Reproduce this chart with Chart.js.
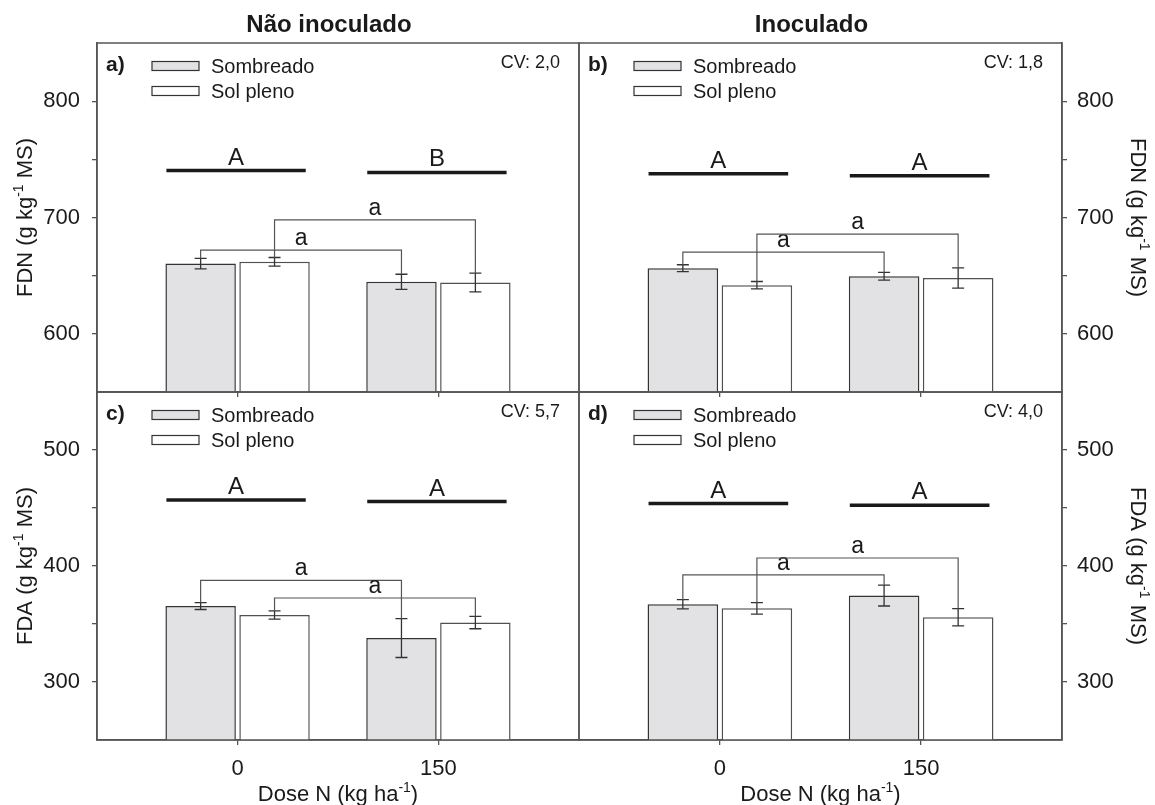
<!DOCTYPE html>
<html>
<head>
<meta charset="utf-8">
<script src="https://cdn.jsdelivr.net/npm/chart.js@4.4.1/dist/chart.umd.min.js"></script>
<style>
html,body{margin:0;padding:0;background:#ffffff;}
#wrap{position:relative;width:1155px;height:805px;overflow:hidden;background:#ffffff;}
#wrap canvas{position:absolute;left:0;top:0;}
</style>
</head>
<body>
<div id="wrap">
<canvas id="pa" width="1155" height="805"></canvas>
<canvas id="pb" width="1155" height="805"></canvas>
<canvas id="pc" width="1155" height="805"></canvas>
<canvas id="pd" width="1155" height="805"></canvas>
</div>
<script>
// ---------------- DATA ----------------
const doses = [0, 150];
const seriesNames = ['Sombreado', 'Sol pleno'];
const titleNao = 'Não inoculado';
const titleIno = 'Inoculado';

// FDN - Não inoculado (a)
const fdnNaoSomb = [660.4, 644.7];
const fdnNaoSol = [661.9, 644.1];
const fdnNaoSombErr = [4.5, 6.5];
const fdnNaoSolErr = [3.7, 8.0];
// FDN - Inoculado (b)
const fdnInoSomb = [656.4, 649.5];
const fdnInoSol = [641.8, 648.0];
const fdnInoSombErr = [3.0, 3.3];
const fdnInoSolErr = [3.2, 8.7];
// FDA - Não inoculado (c)
const fdaNaoSomb = [365.5, 337.9];
const fdaNaoSol = [357.8, 351.2];
const fdaNaoSombErr = [3.0, 16.8];
const fdaNaoSolErr = [3.6, 5.3];
// FDA - Inoculado (d)
const fdaInoSomb = [367.0, 374.5];
const fdaInoSol = [363.5, 355.8];
const fdaInoSombErr = [4.0, 9.0];
const fdaInoSolErr = [5.0, 7.5];

// significance letters (dose comparison) and their levels
const sigLettersA = ['A', 'B'];
const sigLevelsA = [740.4, 738.7];
const sigLettersB = ['A', 'A'];
const sigLevelsB = [737.6, 735.9];
const sigLettersC = ['A', 'A'];
const sigLevelsC = [456.9, 455.5];
const sigLettersD = ['A', 'A'];
const sigLevelsD = [453.8, 452.3];

// bracket letters and levels [Sombreado, Sol pleno]
const brLettersA = ['a', 'a'];
const brLevelsA = [671.9, 698.0];
const brLettersB = ['a', 'a'];
const brLevelsB = [670.2, 685.7];
const brLettersC = ['a', 'a'];
const brLevelsC = [387.6, 372.4];
const brLettersD = ['a', 'a'];
const brLevelsD = [392.3, 406.9];

const cvA = 'CV: 2,0';
const cvB = 'CV: 1,8';
const cvC = 'CV: 5,7';
const cvD = 'CV: 4,0';

// axes
const fdnRange = [550, 850];
const fdaRange = [250, 550];
const fdnTicks = [600, 650, 700, 750, 800];
const fdaTicks = [300, 350, 400, 450, 500];
const doseRange = [-105, 255];
const fdnTitle = [{t:'FDN (g kg'},{t:'-1',sup:true},{t:' MS)'}];
const fdaTitle = [{t:'FDA (g kg'},{t:'-1',sup:true},{t:' MS)'}];
const xTitle = [{t:'Dose N (kg ha'},{t:'-1',sup:true},{t:')'}];

// ---------------- DRAWING ----------------
const FONT = "'Liberation Sans', Arial, Helvetica, sans-serif";
const W = 1155, H = 805;
const AXIS = '#555555';
const INK = '#1a1a1a';

function drawParts(ctx, parts, size, cx, cy, rot) {
  ctx.save();
  ctx.translate(cx, cy);
  ctx.rotate(rot);
  const supSize = Math.round(size * 0.62);
  const widths = parts.map(p => { ctx.font = (p.sup ? supSize : size) + 'px ' + FONT; return ctx.measureText(p.t).width; });
  const total = widths.reduce((a, b) => a + b, 0);
  let x = -total / 2;
  ctx.textAlign = 'left';
  ctx.textBaseline = 'alphabetic';
  ctx.fillStyle = INK;
  const base = size * 0.36;
  parts.forEach((p, i) => {
    ctx.font = (p.sup ? supSize : size) + 'px ' + FONT;
    ctx.fillText(p.t, x, p.sup ? base - size * 0.42 : base);
    x += widths[i];
  });
  ctx.restore();
}

function makePanel(id, cfg) {
  const left = cfg.side === 'left';
  const xH = cfg.showX ? (H - cfg.area.bottom) : 0;
  const annot = {
    id: 'annot_' + id,
    afterDatasetsDraw(chart) {
      const ctx = chart.ctx;
      const ys = chart.scales.y;
      const metas = [chart.getDatasetMeta(0).data, chart.getDatasetMeta(1).data];
      const vals = [cfg.somb, cfg.sol];
      const errs = [cfg.sombErr, cfg.solErr];
      ctx.save();
      // error bars
      ctx.strokeStyle = '#333333';
      ctx.lineWidth = 1.3;
      metas.forEach((m, di) => {
        m.forEach((bar, i) => {
          const v = vals[di][i], e = errs[di][i];
          const yt = ys.getPixelForValue(v + e), yb = ys.getPixelForValue(v - e);
          ctx.beginPath();
          ctx.moveTo(bar.x, yt); ctx.lineTo(bar.x, yb);
          ctx.moveTo(bar.x - 6, yt); ctx.lineTo(bar.x + 6, yt);
          ctx.moveTo(bar.x - 6, yb); ctx.lineTo(bar.x + 6, yb);
          ctx.stroke();
        });
      });
      // brackets
      metas.forEach((m, di) => {
        const yB = ys.getPixelForValue(cfg.brLevels[di]);
        const x1 = m[0].x, x2 = m[1].x;
        const y1 = ys.getPixelForValue(vals[di][0] + errs[di][0]);
        const y2 = ys.getPixelForValue(vals[di][1] + errs[di][1]);
        ctx.strokeStyle = '#555555';
        ctx.lineWidth = 1.2;
        ctx.beginPath();
        ctx.moveTo(x1, y1); ctx.lineTo(x1, yB); ctx.lineTo(x2, yB); ctx.lineTo(x2, y2);
        ctx.stroke();
        ctx.fillStyle = INK;
        ctx.font = '23px ' + FONT;
        ctx.textAlign = 'center';
        ctx.textBaseline = 'alphabetic';
        ctx.fillText(cfg.brLetters[di], (x1 + x2) / 2, yB - 5);
      });
      // dose significance lines
      for (let i = 0; i < doses.length; i++) {
        const b0 = metas[0][i], b1 = metas[1][i];
        const xl = b0.x - b0.width / 2 + 1, xr = b1.x + b1.width / 2 - 4;
        const y = ys.getPixelForValue(cfg.sigLevels[i]);
        ctx.strokeStyle = '#1a1a1a';
        ctx.lineWidth = 3.5;
        ctx.beginPath(); ctx.moveTo(xl, y); ctx.lineTo(xr, y); ctx.stroke();
        ctx.fillStyle = INK;
        ctx.font = '24px ' + FONT;
        ctx.textAlign = 'center';
        ctx.textBaseline = 'alphabetic';
        ctx.fillText(cfg.sigLetters[i], (xl + xr) / 2, y - 6);
      }
      ctx.restore();
    },
    afterDraw(chart) {
      const ctx = chart.ctx;
      const a = chart.chartArea;
      ctx.save();
      // frame
      ctx.strokeStyle = AXIS;
      ctx.lineWidth = 1.5;
      ctx.strokeRect(a.left, a.top, a.right - a.left, a.bottom - a.top);
      // legend
      chart.data.datasets.forEach((ds, i) => {
        const bx = a.left + 55, cy = a.top + 23 + i * 25;
        ctx.fillStyle = ds.backgroundColor;
        ctx.fillRect(bx, cy - 4.5, 47, 9);
        ctx.strokeStyle = '#333333';
        ctx.lineWidth = 1.2;
        ctx.strokeRect(bx, cy - 4.5, 47, 9);
        ctx.fillStyle = INK;
        ctx.font = '20px ' + FONT;
        ctx.textAlign = 'left';
        ctx.textBaseline = 'middle';
        ctx.fillText(ds.label, bx + 59, cy + 1);
      });
      // panel letter
      ctx.fillStyle = INK;
      ctx.font = 'bold 21px ' + FONT;
      ctx.textAlign = 'left';
      ctx.textBaseline = 'middle';
      ctx.fillText(cfg.letter, a.left + 9, a.top + 22);
      // CV
      ctx.font = '18px ' + FONT;
      ctx.textAlign = 'right';
      ctx.fillText(cfg.cv, a.right - 19, a.top + 20);
      // main title
      if (cfg.title) {
        ctx.font = 'bold 24px ' + FONT;
        ctx.textAlign = 'center';
        ctx.fillText(cfg.title, (a.left + a.right) / 2 - 9, 25);
      }
      ctx.restore();
      // axis titles
      const ycy = (a.top + a.bottom) / 2;
      if (left) drawParts(ctx, cfg.yTitle, 22, 24, ycy, -Math.PI / 2);
      else drawParts(ctx, cfg.yTitle, 22, 1139, ycy, Math.PI / 2);
      if (cfg.showX) drawParts(ctx, xTitle, 22, (a.left + a.right) / 2, 793, 0);
    }
  };

  return new Chart(document.getElementById(id), {
    type: 'bar',
    data: {
      datasets: [
        { label: seriesNames[0], data: doses.map((d, i) => ({ x: d, y: cfg.somb[i] })),
          backgroundColor: '#e2e2e5', borderColor: '#333333', borderWidth: 1.5,
          base: cfg.yRange[0], clip: 0, categoryPercentage: 0.736, barPercentage: 0.953 },
        { label: seriesNames[1], data: doses.map((d, i) => ({ x: d, y: cfg.sol[i] })),
          backgroundColor: '#ffffff', borderColor: '#505050', borderWidth: 1.5,
          base: cfg.yRange[0], clip: 0, categoryPercentage: 0.736, barPercentage: 0.953 }
      ]
    },
    options: {
      responsive: false,
      animation: false,
      devicePixelRatio: 1,
      layout: {
        padding: {
          left: left ? 0 : cfg.area.left,
          right: left ? (W - cfg.area.right) : 0,
          top: cfg.area.top,
          bottom: H - cfg.area.bottom - xH
        }
      },
      plugins: { legend: { display: false }, tooltip: { enabled: false }, title: { display: false } },
      scales: {
        x: {
          type: 'linear', min: doseRange[0], max: doseRange[1], offset: false,
          afterBuildTicks: s => { s.ticks = doses.map(v => ({ value: v })); },
          afterFit: s => { s.height = xH; },
          ticks: { display: cfg.showX, color: INK, font: { size: 22, family: FONT }, padding: 11, maxRotation: 0, autoSkip: false,
                   callback: v => String(v) },
          grid: { drawOnChartArea: false, drawTicks: true, tickLength: 5, color: AXIS, lineWidth: 1.3, offset: false },
          border: { display: true, color: AXIS, width: 1.5 }
        },
        y: {
          type: 'linear', position: cfg.side, min: cfg.yRange[0], max: cfg.yRange[1],
          afterBuildTicks: s => { s.ticks = cfg.yTicks.map(v => ({ value: v })); },
          afterFit: s => { s.width = left ? cfg.area.left : (W - cfg.area.right); },
          ticks: { color: INK, font: { size: 22, family: FONT }, padding: left ? 12 : 10, autoSkip: false,
                   callback: v => (v % 100 === 0 ? String(v) : '') },
          grid: { drawOnChartArea: false, drawTicks: true, tickLength: 5, color: AXIS, lineWidth: 1.3 },
          border: { display: true, color: AXIS, width: 1.5 }
        }
      }
    },
    plugins: [annot]
  });
}

makePanel('pa', { area: { left: 97, right: 579, top: 43, bottom: 392 }, side: 'left', showX: false,
  somb: fdnNaoSomb, sol: fdnNaoSol, sombErr: fdnNaoSombErr, solErr: fdnNaoSolErr,
  sigLetters: sigLettersA, sigLevels: sigLevelsA, brLetters: brLettersA, brLevels: brLevelsA,
  cv: cvA, letter: 'a)', title: titleNao, yRange: fdnRange, yTicks: fdnTicks, yTitle: fdnTitle });
makePanel('pb', { area: { left: 579, right: 1062, top: 43, bottom: 392 }, side: 'right', showX: false,
  somb: fdnInoSomb, sol: fdnInoSol, sombErr: fdnInoSombErr, solErr: fdnInoSolErr,
  sigLetters: sigLettersB, sigLevels: sigLevelsB, brLetters: brLettersB, brLevels: brLevelsB,
  cv: cvB, letter: 'b)', title: titleIno, yRange: fdnRange, yTicks: fdnTicks, yTitle: fdnTitle });
makePanel('pc', { area: { left: 97, right: 579, top: 392, bottom: 740 }, side: 'left', showX: true,
  somb: fdaNaoSomb, sol: fdaNaoSol, sombErr: fdaNaoSombErr, solErr: fdaNaoSolErr,
  sigLetters: sigLettersC, sigLevels: sigLevelsC, brLetters: brLettersC, brLevels: brLevelsC,
  cv: cvC, letter: 'c)', title: null, yRange: fdaRange, yTicks: fdaTicks, yTitle: fdaTitle });
makePanel('pd', { area: { left: 579, right: 1062, top: 392, bottom: 740 }, side: 'right', showX: true,
  somb: fdaInoSomb, sol: fdaInoSol, sombErr: fdaInoSombErr, solErr: fdaInoSolErr,
  sigLetters: sigLettersD, sigLevels: sigLevelsD, brLetters: brLettersD, brLevels: brLevelsD,
  cv: cvD, letter: 'd)', title: null, yRange: fdaRange, yTicks: fdaTicks, yTitle: fdaTitle });
</script>
</body>
</html>
